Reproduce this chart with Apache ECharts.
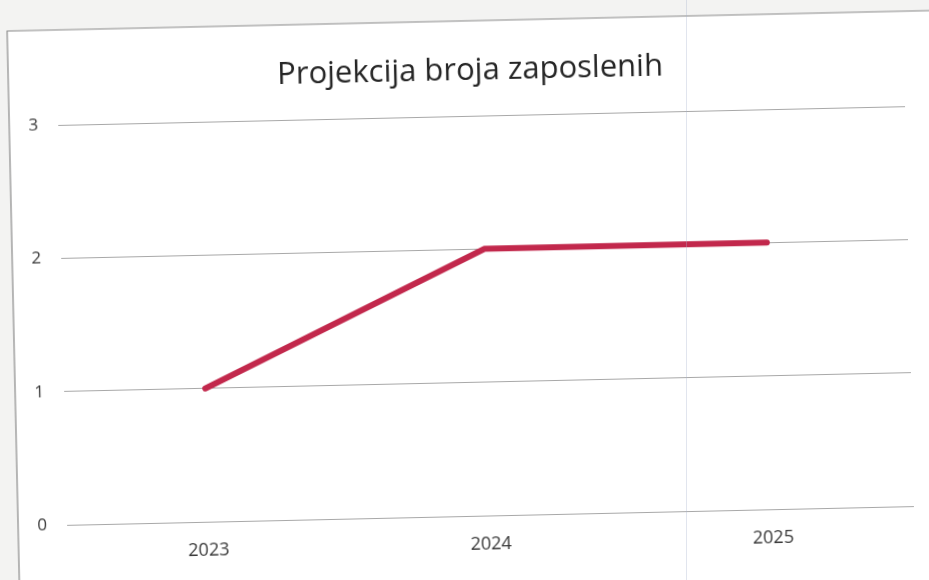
<!DOCTYPE html>
<html>
<head>
<meta charset="utf-8">
<script src="https://cdn.jsdelivr.net/npm/echarts@6/dist/echarts.min.js"></script>
<style>
html,body{margin:0;padding:0;background:#f3f3f2;overflow:hidden;width:929px;height:580px;}
#wrap{position:absolute;left:-40px;top:-40px;width:1049px;height:700px;transform:rotate(-1.27deg);transform-origin:504px 330px;}
#c{width:1049px;height:700px;}
#fold{position:absolute;left:686px;top:0;width:1px;height:580px;background:rgba(170,180,205,0.35);}
</style>
</head>
<body>
<div id="wrap"><div id="c"></div></div>
<div id="fold"></div>
<script>
const titleText = 'Projekcija broja zaposlenih';
const categories = ['2023', '2024', '2025'];
const values = [1, 2, 2];
const yTicks = [0, 1, 2, 3];

const OFF = 40;
const chart = echarts.init(document.getElementById('c'));
chart.setOption({
  backgroundColor: 'transparent',
  animation: false,
  graphic: [{
    type: 'rect', z: -10, silent: true,
    shape: {x: 13 + OFF, y: 21 + OFF, width: 1100, height: 700},
    style: {fill: '#ffffff', stroke: '#8a8a8a', lineWidth: 1.2}
  }],
  title: {
    text: titleText, left: 470 + OFF, textAlign: 'center', top: 51 + OFF,
    textStyle: {fontFamily: 'Open Sans', fontSize: 31, fontWeight: 500, color: '#252525'}
  },
  grid: {left: 62 + OFF, right: 1049 - 909 - OFF, top: 116 + OFF, bottom: 700 - 516 - OFF},
  xAxis: {
    type: 'category', data: categories, boundaryGap: true,
    axisLine: {show: false}, axisTick: {show: false},
    axisLabel: {margin: 20, fontSize: 18, color: '#383838', fontFamily: 'Open Sans'}
  },
  yAxis: {
    type: 'value', min: yTicks[0], max: yTicks[yTicks.length - 1], interval: 1,
    axisLine: {show: false}, axisTick: {show: false},
    axisLabel: {margin: 20, fontSize: 17, color: '#383838', fontFamily: 'Open Sans'},
    splitLine: {lineStyle: {color: '#a8a8a8', width: 1.2}}
  },
  series: [{
    type: 'line', data: values, symbol: 'none',
    lineStyle: {color: '#c2284c', width: 6, cap: 'round', join: 'round'}
  }]
});
</script>
</body>
</html>
